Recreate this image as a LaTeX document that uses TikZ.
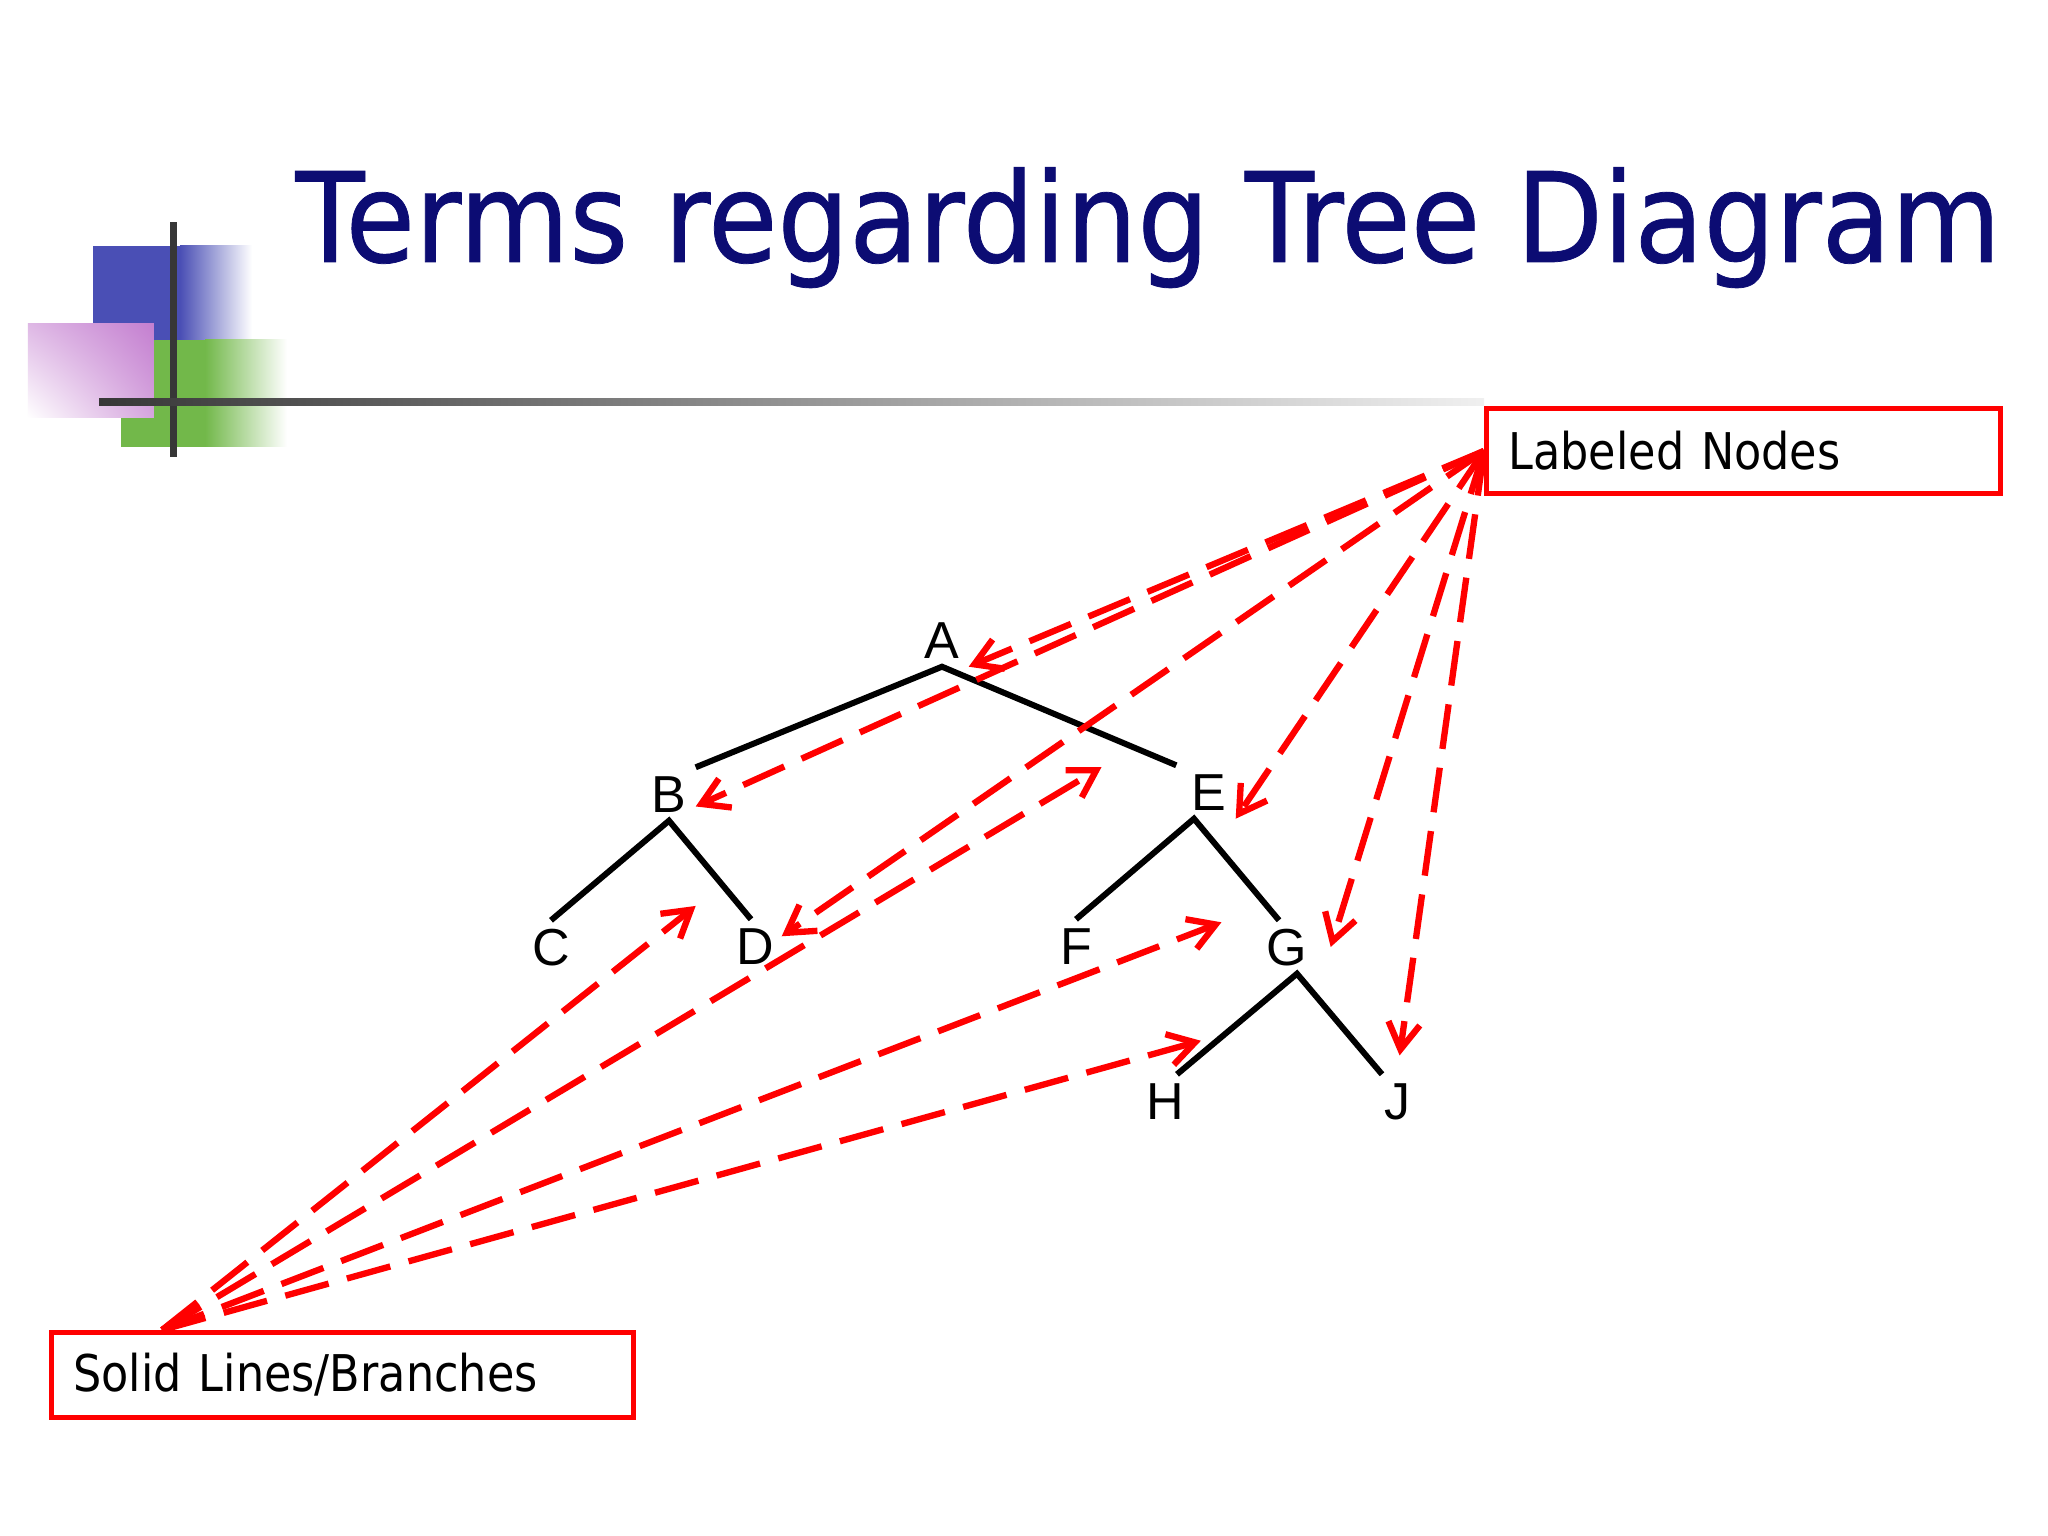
\documentclass[tikz,border=0pt]{standalone}
\usepackage{fontspec}
\usetikzlibrary{arrows.meta,shadings}
\newfontfamily\tahoma{DejaVu Sans}[FakeStretch=0.88]
\newfontfamily\tahomatitle{DejaVu Sans}[FakeStretch=0.905,FakeBold=0.6]
\newfontfamily\arial{Liberation Sans}
\definecolor{titleblue}{RGB}{12,12,115}
\definecolor{sqblue}{RGB}{74,79,181}
\definecolor{sqgreen}{RGB}{114,184,74}
\definecolor{sqpink}{RGB}{196,127,208}
\definecolor{bargray}{RGB}{55,55,55}

\begin{document}
\begin{tikzpicture}[>={Straight Barb[length=7.5pt,width=9pt]}]
    \tikzset{letter/.style={font=\arial\fontsize{14.8}{17}\selectfont, minimum size=0.52cm, inner sep=0pt, text height=10.6pt, text depth=0pt},
        branch/.style={line width=1.7pt},
        note/.style={draw=red, line width=1.4pt, font=\tahoma\fontsize{14.4}{17}\selectfont, anchor=north west, minimum height=0.85cm, inner xsep=0.22cm, align=left},
        pointer/.style={->, red, line width=1.8pt, dash pattern=on 12.8pt off 5.4pt}}
    \useasboundingbox (0,0) rectangle (20.48,-15.36);
    \fill[white] (0,0) rectangle (20.48,-15.36);

    \fill[sqblue] (0.93,-2.46) rectangle (1.80,-3.40);
    \shade[left color=sqblue, right color=white] (1.80,-2.46) rectangle (2.52,-3.40);
    \fill[sqgreen] (1.21,-3.40) rectangle (2.05,-4.47);
    \shade[left color=sqgreen, right color=white] (2.05,-3.40) rectangle (2.87,-4.47);
    \shade[upper right=sqpink, upper left=sqpink!55!white, lower right=sqpink!70!white, lower left=white] (0.28,-3.24) rectangle (1.54,-4.18);
    \fill[bargray] (1.70,-2.22) rectangle (1.77,-4.57);
    \shade[left color=bargray, middle color=black!55, right color=black!6] (0.99,-3.985) rectangle (14.84,-4.055);

    \node[anchor=base west, inner sep=0pt, text=titleblue, font=\tahomatitle\fontsize{35.5}{40}\selectfont] (title) at (2.95,-2.62) {Terms regarding Tree Diagram};

    \node[note, text width=4.70cm] (lab) at (14.84,-4.06) {Labeled Nodes};
    \node[note, text width=5.38cm] (sol) at (0.49,-13.30) {Solid Lines/Branches};

    \node[letter] (A) at (9.42,-6.40) {A};
    \node[letter] (B) at (6.69,-7.94) {B};
    \node[letter] (C) at (5.51,-9.47) {C};
    \node[letter] (D) at (7.55,-9.46) {D};
    \node[letter] (E) at (12.09,-7.92) {E};
    \node[letter] (F) at (10.76,-9.46) {F};
    \node[letter] (G) at (12.87,-9.47) {G};
    \node[letter] (H) at (11.65,-11.01) {H};
    \node[letter] (J) at (13.97,-11.01) {J};

    \draw[branch] (B.north east) -- (A.south) -- coordinate[pos=.82] (ae) ([xshift=-0.6mm]E.north west);
    \draw[branch] (C.north) -- (B.south) -- coordinate[pos=.65] (bd) ([xshift=-0.4mm]D.north);
    \draw[branch] (F.north) -- ([xshift=-1.5mm]E.south) -- coordinate[pos=.85] (eg) ([xshift=-0.8mm]G.north);
    \draw[branch] ([xshift=-1.5mm]J.north) -- ([xshift=1mm]G.south) -- coordinate[pos=.6] (gh) ([xshift=1.2mm]H.north);

    \draw[pointer] (lab.west) -- (A.south east);
    \draw[pointer] (lab.west) -- (B.-25);
    \draw[pointer] (lab.west) -- (D.20);
    \draw[pointer] (lab.west) -- (E.south east);
    \draw[pointer] (lab.west) -- ([xshift=1.7mm]G.east);
    \draw[pointer, shorten >=0.19cm] (lab.west) -- (J.north);

    \draw[pointer, shorten >=0.34cm] (sol.166) -- (bd);
    \draw[pointer, shorten >=0.38cm] (sol.166) -- (ae);
    \draw[pointer, shorten >=0.48cm] (sol.166) -- (eg);
    \draw[pointer, shorten >=0.25cm] (sol.166) -- (gh);
\end{tikzpicture}
\end{document}
